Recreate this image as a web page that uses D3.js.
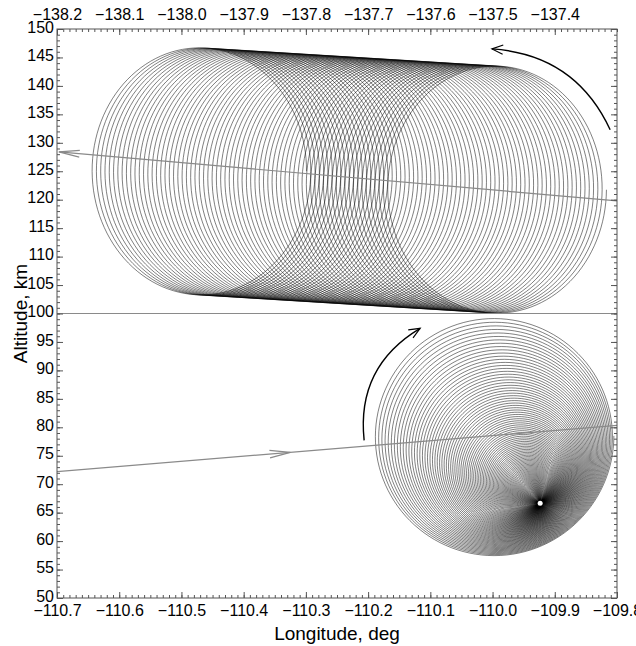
<!DOCTYPE html>
<html>
<head>
<meta charset="utf-8">
<script src="https://cdn.jsdelivr.net/npm/d3@7/dist/d3.min.js"></script>
<style>
  body { margin: 0; background: #fff; }
  text { font-family: "Liberation Sans", Arial, sans-serif; fill: #000; }
</style>
</head>
<body>
<svg id="chart" width="636" height="646"></svg>
<script>
// axis tick labels
var bottomTicks = [-110.7, -110.6, -110.5, -110.4, -110.3, -110.2, -110.1, -110.0, -109.9, -109.8];
var topTicks = [-138.2, -138.1, -138.0, -137.9, -137.8, -137.7, -137.6, -137.5, -137.4];
var altTicks = [50, 55, 60, 65, 70, 75, 80, 85, 90, 95, 100, 105, 110, 115, 120, 125, 130, 135, 140, 145, 150];

// upper loops (top longitude axis): centre at first and last turn, radius [deg, km]
var upperCenterLon = [-137.973, -137.491];
var upperCenterAlt = [125.0, 121.75];
var upperRadius = [0.174, 21.7];
var upperTurns = 70;

// lower loops (bottom longitude axis): outer centre, end point, outer radius
var lowerCenterLon = [-109.998, -109.9235];
var lowerCenterAlt = [78.5, 66.67];
var lowerRadius = [0.193, 21.1];
var lowerTurns = 180;

// straight trajectory lines
var upperTrackLon = [-138.197, -137.3];
var upperTrackAlt = [128.4, 119.8];
var lowerTrackLon = [-110.7, -109.8];
var lowerTrackAlt = [72.2, 80.35];
var lowerArrowLon = -110.325;
var boundaryAlt = 100;

// curved direction arrows: start, control, tip
var upperArrowLon = [-137.311, -137.367, -137.501];
var upperArrowAlt = [132.3, 145.5, 146.5];
var lowerArrowLonC = [-110.2064, -110.219, -110.1164];
var lowerArrowAltC = [77.7, 90.7, 97.4];

var svg = d3.select("#chart");
var L = 57, R = 617, T = 29, B = 598;

var x = d3.scaleLinear().domain([-110.7, -109.8]).range([L, R]);
var xTop = d3.scaleLinear().domain([-138.2, -137.3]).range([L, R]);
var y = d3.scaleLinear().domain([50, 150]).range([B, T]);

svg.append("clipPath").attr("id", "plot")
  .append("rect").attr("x", L).attr("y", T).attr("width", R - L).attr("height", B - T);

var plot = svg.append("g").attr("clip-path", "url(#plot)");

//helix paths
var perTurn = 120;
var upperPts = [];
for (var i = 0; i <= upperTurns * perTurn; i++) {
  var t = i / perTurn, f = t / upperTurns, a = 2 * Math.PI * t;
  var cl = upperCenterLon[0] + (upperCenterLon[1] - upperCenterLon[0]) * f;
  var ca = upperCenterAlt[0] + (upperCenterAlt[1] - upperCenterAlt[0]) * f;
  upperPts.push([xTop(cl + upperRadius[0] * Math.cos(a)), y(ca + upperRadius[1] * Math.sin(a))]);
}
var lowerPts = [];
for (var j = 0; j <= lowerTurns * perTurn; j++) {
  var t2 = j / perTurn, s = Math.pow(1 - t2 / lowerTurns, 3.6), a2 = -2 * Math.PI * t2;
  var cl2 = lowerCenterLon[1] + (lowerCenterLon[0] - lowerCenterLon[1]) * s;
  var ca2 = lowerCenterAlt[1] + (lowerCenterAlt[0] - lowerCenterAlt[1]) * s;
  lowerPts.push([x(cl2 + lowerRadius[0] * s * Math.cos(a2)), y(ca2 + lowerRadius[1] * s * Math.sin(a2))]);
}
var line = d3.line();
plot.append("path").attr("d", line(upperPts))
  .attr("fill", "none").attr("stroke", "#000").attr("stroke-width", 0.5);
plot.append("path").attr("d", line(lowerPts))
  .attr("fill", "none").attr("stroke", "#000").attr("stroke-width", 0.5);
plot.append("circle")
  .attr("cx", x(lowerCenterLon[1])).attr("cy", y(lowerCenterAlt[1]))
  .attr("r", 2.5).attr("fill", "#fff");

// gray trajectory lines
var gray = "#8a8a8a";
function arrowHead(g, tx, ty, fx, fy, len, ang, col, w) {
  var th = Math.atan2(fy - ty, fx - tx);
  var p1 = [tx + len * Math.cos(th + ang), ty + len * Math.sin(th + ang)];
  var p2 = [tx + len * Math.cos(th - ang), ty + len * Math.sin(th - ang)];
  g.append("path").attr("d", "M" + p1 + "L" + [tx, ty] + "L" + p2)
    .attr("fill", "none").attr("stroke", col).attr("stroke-width", w);
}
plot.append("line")
  .attr("x1", xTop(upperTrackLon[0])).attr("y1", y(upperTrackAlt[0]))
  .attr("x2", xTop(upperTrackLon[1])).attr("y2", y(upperTrackAlt[1]))
  .attr("stroke", gray).attr("stroke-width", 1.2);
arrowHead(plot, xTop(upperTrackLon[0]), y(upperTrackAlt[0]),
  xTop(upperTrackLon[1]), y(upperTrackAlt[1]), 21, 0.16, gray, 1.2);

plot.append("line")
  .attr("x1", x(lowerTrackLon[0])).attr("y1", y(lowerTrackAlt[0]))
  .attr("x2", x(lowerTrackLon[1])).attr("y2", y(lowerTrackAlt[1]))
  .attr("stroke", gray).attr("stroke-width", 1.2);
var la = lowerTrackAlt[0] + (lowerTrackAlt[1] - lowerTrackAlt[0]) *
  (lowerArrowLon - lowerTrackLon[0]) / (lowerTrackLon[1] - lowerTrackLon[0]);
arrowHead(plot, x(lowerArrowLon), y(la), x(lowerTrackLon[0]), y(lowerTrackAlt[0]), 21, 0.18, gray, 1.2);

plot.append("line")
  .attr("x1", L).attr("x2", R).attr("y1", y(boundaryAlt)).attr("y2", y(boundaryAlt))
  .attr("stroke", gray).attr("stroke-width", 1.2);

// curved black arrows
function curved(xs, lons, alts) {
  var p0 = [xs(lons[0]), y(alts[0])], c = [xs(lons[1]), y(alts[1])], p1 = [xs(lons[2]), y(alts[2])];
  plot.append("path").attr("d", "M" + p0 + "Q" + c + " " + p1)
    .attr("fill", "none").attr("stroke", "#000").attr("stroke-width", 1.4);
  arrowHead(plot, p1[0], p1[1], c[0], c[1], 12, 0.4, "#000", 1.2);
}
curved(xTop, upperArrowLon, upperArrowAlt);
curved(x, lowerArrowLonC, lowerArrowAltC);

// axes
var frame = "#555";
function styleAxis(g) {
  g.select(".domain").remove();
  g.selectAll(".tick line").attr("stroke", frame);
  g.selectAll(".tick text").style("font-size", "16px").attr("fill", "#000");
}
svg.append("g").attr("transform", "translate(0," + B + ")")
  .call(d3.axisBottom(x).tickValues(x.ticks(90)).tickSize(-3).tickFormat(""))
  .call(styleAxis);
svg.append("g").attr("transform", "translate(0," + B + ")")
  .call(d3.axisBottom(x).tickValues(bottomTicks).tickSize(-6).tickPadding(7)
    .tickFormat(d3.format(".1f")))
  .call(styleAxis);

svg.append("g").attr("transform", "translate(0," + T + ")")
  .call(d3.axisTop(xTop).tickValues(xTop.ticks(90)).tickSize(-3).tickFormat(""))
  .call(styleAxis);
svg.append("g").attr("transform", "translate(0," + T + ")")
  .call(d3.axisTop(xTop).tickValues(topTicks).tickSize(-6).tickPadding(9)
    .tickFormat(d3.format(".1f")))
  .call(styleAxis);

svg.append("g").attr("transform", "translate(" + L + ",0)")
  .call(d3.axisLeft(y).tickValues(y.ticks(100)).tickSize(-3).tickFormat(""))
  .call(styleAxis);
svg.append("g").attr("transform", "translate(" + L + ",0)")
  .call(d3.axisLeft(y).tickValues(altTicks).tickSize(-6).tickPadding(3))
  .call(styleAxis)
  .selectAll(".tick text").attr("dy", "0.2em");

svg.append("g").attr("transform", "translate(" + R + ",0)")
  .call(d3.axisRight(y).tickValues(y.ticks(100)).tickSize(-3).tickFormat(""))
  .call(styleAxis);
svg.append("g").attr("transform", "translate(" + R + ",0)")
  .call(d3.axisRight(y).tickValues(altTicks).tickSize(-6).tickFormat(""))
  .call(styleAxis);

svg.append("rect").attr("x", L).attr("y", T).attr("width", R - L).attr("height", B - T)
  .attr("fill", "none").attr("stroke", frame).attr("stroke-width", 1);

svg.append("text").attr("x", (L + R) / 2).attr("y", 640).attr("text-anchor", "middle")
  .style("font-size", "19px").text("Longitude, deg");
svg.append("text").attr("transform", "translate(27," + ((T + B) / 2) + ") rotate(-90)")
  .attr("text-anchor", "middle").style("font-size", "19px").text("Altitude, km");
</script>
</body>
</html>
